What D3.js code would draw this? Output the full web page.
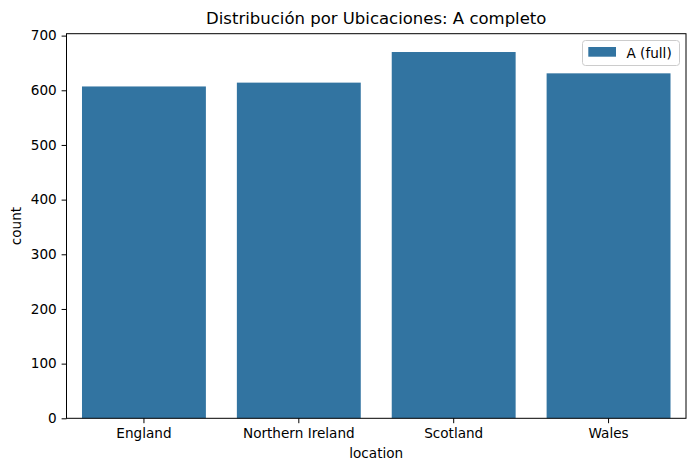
<!DOCTYPE html>
<html><head><meta charset="utf-8">
<script src="https://cdn.jsdelivr.net/npm/d3@7"></script>
<style>
body{margin:0;background:#fff;}
text{font-family:"DejaVu Sans",sans-serif;fill:#000;}
</style></head>
<body>
<svg id="c" width="695" height="471"></svg>
<script>
const categories = ["England", "Northern Ireland", "Scotland", "Wales"];
const counts = [607, 614, 670, 631];
const yTicks = [0, 100, 200, 300, 400, 500, 600, 700];
const title = "Distribución por Ubicaciones: A completo";
const seriesName = "A (full)";
const xLabel = "location";
const yLabel = "count";
const color = "#3274a1";

const svg = d3.select("#c");
const L = 66.5, R = 686, T = 33.7, B = 418.3;

const x = d3.scaleBand().domain(categories).range([L, R]).paddingInner(0.2).paddingOuter(0.1);
const y = d3.scaleLinear().domain([0, d3.max(counts) * 1.05]).range([B, T]);

svg.selectAll("rect.bar").data(categories).enter().append("rect")
  .attr("class", "bar")
  .attr("x", d => x(d))
  .attr("width", x.bandwidth())
  .attr("y", (d, i) => y(counts[i]))
  .attr("height", (d, i) => B - y(counts[i]))
  .attr("fill", color);

// frame
svg.append("rect").attr("x", L).attr("y", T).attr("width", R - L).attr("height", B - T)
  .attr("fill", "none").attr("stroke", "#000").attr("stroke-width", 1);

const yAxis = svg.append("g").attr("transform", `translate(${L},0)`)
  .call(d3.axisLeft(y).tickValues(yTicks).tickSize(4.9).tickPadding(4.9).tickFormat(d3.format("d")));
yAxis.select(".domain").remove();
yAxis.selectAll("text").attr("font-size", "13.6px").attr("font-family", "DejaVu Sans");
yAxis.selectAll("line").attr("stroke", "#000");

const xAxis = svg.append("g").attr("transform", `translate(0,${B})`)
  .call(d3.axisBottom(x).tickSize(4.9).tickPadding(4.9));
xAxis.select(".domain").remove();
xAxis.selectAll("text").attr("font-size", "13.6px").attr("font-family", "DejaVu Sans");
xAxis.selectAll("line").attr("stroke", "#000");

svg.append("text").attr("x", (L + R) / 2).attr("y", 24).attr("text-anchor", "middle")
  .attr("font-size", "16.5px").text(title);
svg.append("text").attr("x", (L + R) / 2).attr("y", 458).attr("text-anchor", "middle")
  .attr("font-size", "13.6px").text(xLabel);
svg.append("text").attr("transform", `translate(21,${(T + B) / 2}) rotate(-90)`).attr("text-anchor", "middle")
  .attr("font-size", "13.6px").text(yLabel);

// legend
const lg = svg.append("g");
lg.append("rect").attr("x", 582.5).attr("y", 40.5).attr("width", 97).attr("height", 25)
  .attr("rx", 3).attr("fill", "#fff").attr("fill-opacity", 0.8).attr("stroke", "#ccc");
lg.append("rect").attr("x", 588.3).attr("y", 47).attr("width", 27.7).attr("height", 9.7).attr("fill", color);
lg.append("text").attr("x", 626.5).attr("y", 57.5).attr("font-size", "13.6px").text(seriesName);
</script>
</body></html>
